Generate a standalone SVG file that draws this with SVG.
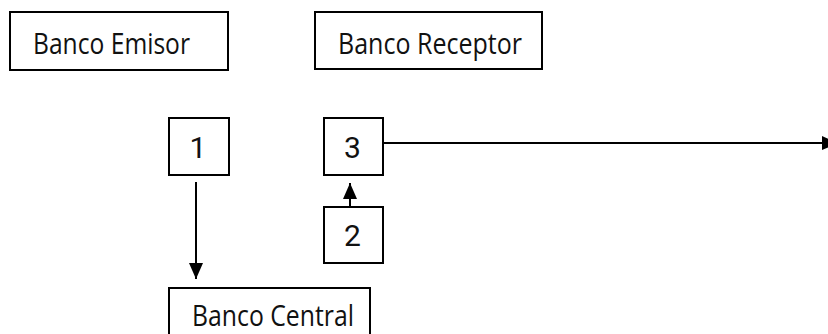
<svg xmlns="http://www.w3.org/2000/svg" width="828" height="334" viewBox="0 0 828 334">
  <style>
    .box { fill: #ffffff; stroke: #000000; stroke-width: 2; }
    .label { font-family: "Open Sans", Lato, "Liberation Sans", sans-serif; font-size: 30px; fill: #111111; }
    .num { font-family: Roboto, "Liberation Sans", sans-serif; font-size: 30px; fill: #111111; text-anchor: middle; }
    .wire { stroke: #000000; stroke-width: 2; fill: none; }
  </style>
  <defs>
    <marker id="head" viewBox="0 0 16 14" refX="16" refY="7" markerWidth="16" markerHeight="14" markerUnits="userSpaceOnUse" orient="auto">
      <path d="M0,0 L16,7 L0,14 Z" fill="#000000"/>
    </marker>
  </defs>

  <g id="banco-emisor">
    <rect class="box" x="10" y="12" width="218" height="58"/>
    <text class="label" x="33" y="53.5" textLength="157" lengthAdjust="spacingAndGlyphs">Banco Emisor</text>
  </g>

  <g id="banco-receptor">
    <rect class="box" x="315" y="12" width="227" height="57"/>
    <text class="label" x="338" y="53.5" textLength="184" lengthAdjust="spacingAndGlyphs">Banco Receptor</text>
  </g>

  <g id="paso-1">
    <rect class="box" x="169" y="118" width="60" height="57"/>
    <text class="num" x="198" y="158">1</text>
  </g>

  <g id="paso-3">
    <rect class="box" x="324" y="118" width="59" height="57"/>
    <text class="num" x="352.5" y="158">3</text>
  </g>

  <g id="paso-2">
    <rect class="box" x="324" y="207" width="59" height="56"/>
    <text class="num" x="352.5" y="246">2</text>
  </g>

  <g id="banco-central">
    <rect class="box" x="169" y="288" width="201" height="60"/>
    <text class="label" x="192" y="325.5" textLength="162" lengthAdjust="spacingAndGlyphs">Banco Central</text>
  </g>

  <g id="connectors">
    <!-- 1 down to Banco Central -->
    <line class="wire" x1="196" y1="182" x2="196" y2="279" marker-end="url(#head)"/>
    <!-- 2 up to 3 -->
    <line class="wire" x1="350" y1="207" x2="350" y2="183" marker-end="url(#head)"/>
    <!-- 3 out to the right edge -->
    <line class="wire" x1="383" y1="143" x2="838" y2="143" marker-end="url(#head)"/>
  </g>
</svg>
